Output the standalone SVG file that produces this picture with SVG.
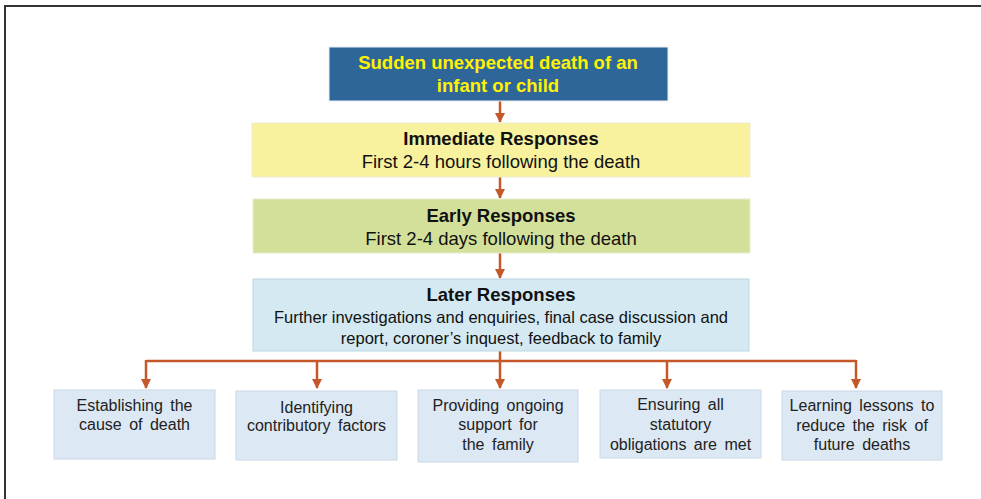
<svg xmlns="http://www.w3.org/2000/svg" width="981" height="499" viewBox="0 0 981 499">
<style>
text{font-family:"Liberation Sans",Arial,sans-serif;text-anchor:middle}
.b{font-weight:bold;font-size:18.5px;fill:#111}
.r{font-size:18.5px;fill:#111}
.s{font-size:16.5px;fill:#111}
.t{font-size:16px;fill:#222;word-spacing:3px}
.y{font-weight:bold;font-size:18.5px;fill:#fff200}
.leaf{fill:#dce8f3;stroke:#c9d8e6;stroke-width:1}
.con{stroke:#c4582a;stroke-width:2.5;fill:none}
</style>
<defs>
<marker id="ah" viewBox="0 0 10 10" refX="9" refY="5" markerWidth="4" markerHeight="4" orient="auto" markerUnits="strokeWidth">
<path d="M0,0 L10,5 L0,10 z" fill="#c4582a"/>
</marker>
</defs>
<path d="M5,499 V6 H981" fill="none" stroke="#333" stroke-width="2"/>
<g id="connectors">
<line class="con" x1="500" y1="101" x2="500" y2="122" marker-end="url(#ah)"/>
<line class="con" x1="500" y1="177" x2="500" y2="198" marker-end="url(#ah)"/>
<line class="con" x1="500" y1="253" x2="500" y2="278" marker-end="url(#ah)"/>
<line class="con" x1="500" y1="351" x2="500" y2="361"/>
<path class="con" d="M146,361 H856"/>
<line class="con" x1="146" y1="360" x2="146" y2="388" marker-end="url(#ah)"/>
<line class="con" x1="317" y1="361" x2="317" y2="388" marker-end="url(#ah)"/>
<line class="con" x1="500" y1="361" x2="500" y2="388" marker-end="url(#ah)"/>
<line class="con" x1="667" y1="361" x2="667" y2="388" marker-end="url(#ah)"/>
<line class="con" x1="856" y1="360" x2="856" y2="388" marker-end="url(#ah)"/>
</g>
<g id="death">
<rect x="329" y="47" width="339" height="54" fill="#2e6699" stroke="#e8eef4" stroke-width="1"/>
<text class="y" x="498" y="69">Sudden unexpected death of an</text>
<text class="y" x="498" y="92">infant or child</text>
</g>
<g id="immediate">
<rect x="252" y="123" width="498" height="54" fill="#f8f19e" stroke="#f0ecd0" stroke-width="1"/>
<text class="b" x="501" y="145">Immediate Responses</text>
<text class="r" x="501" y="168">First 2-4 hours following the death</text>
</g>
<g id="early">
<rect x="253" y="199" width="497" height="54" fill="#d3e09a" stroke="#e6edd0" stroke-width="1"/>
<text class="b" x="501" y="222">Early Responses</text>
<text class="r" x="501" y="245">First 2-4 days following the death</text>
</g>
<g id="later">
<rect x="253" y="279" width="496" height="72" fill="#d4e9f1" stroke="#bcd6e2" stroke-width="1"/>
<text class="b" x="501" y="301">Later Responses</text>
<text class="s" x="501" y="323">Further investigations and enquiries, final case discussion and</text>
<text class="s" x="501" y="344">report, coroner’s inquest, feedback to family</text>
</g>
<g id="cause">
<rect class="leaf" x="54" y="390" width="161" height="69"/>
<text class="t" x="134.5" y="411">Establishing the</text>
<text class="t" x="134.5" y="430">cause of death</text>
</g>
<g id="factors">
<rect class="leaf" x="236" y="391" width="161" height="69"/>
<text class="t" x="316.5" y="413">Identifying</text>
<text class="t" x="316.5" y="431">contributory factors</text>
</g>
<g id="support">
<rect class="leaf" x="418" y="390" width="160" height="72"/>
<text class="t" x="498" y="411">Providing ongoing</text>
<text class="t" x="498" y="430">support for</text>
<text class="t" x="498" y="450">the family</text>
</g>
<g id="statutory">
<rect class="leaf" x="600" y="390" width="161" height="68"/>
<text class="t" x="680.5" y="410">Ensuring all</text>
<text class="t" x="680.5" y="430">statutory</text>
<text class="t" x="680.5" y="450">obligations are met</text>
</g>
<g id="lessons">
<rect class="leaf" x="782" y="391" width="160" height="69"/>
<text class="t" x="862" y="411">Learning lessons to</text>
<text class="t" x="862" y="431">reduce the risk of</text>
<text class="t" x="862" y="450">future deaths</text>
</g>
</svg>
